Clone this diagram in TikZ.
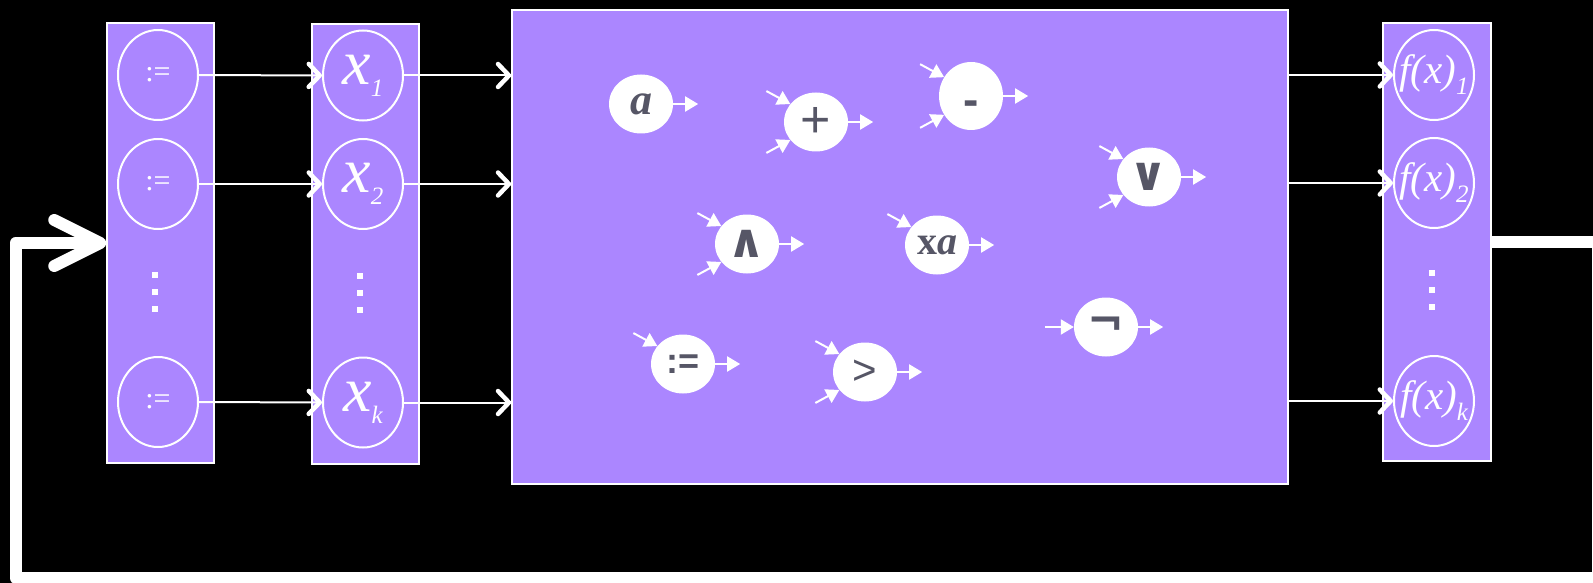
\documentclass[tikz,border=0pt]{standalone}
\usepackage{fontspec}
\setmainfont{Liberation Serif}
\setsansfont{Liberation Sans}
\newfontfamily\dejavu{DejaVu Sans}
\usepackage{tikz}
\usetikzlibrary{arrows.meta,positioning,shapes.geometric}
\definecolor{vio}{RGB}{171,134,255}
\definecolor{ink}{RGB}{86,86,102}
\newcommand{\xsub}[1]{\makebox[0pt]{\fontsize{64}{64}\selectfont\itshape x\raisebox{-12pt}{\fontsize{25}{25}\selectfont #1}}}
\newcommand{\fsub}[1]{\makebox[0pt]{\fontsize{41}{41}\selectfont\itshape f(x)\raisebox{-11pt}{\fontsize{25}{25}\selectfont #1}}}

\begin{document}
\begin{tikzpicture}[x=1pt, y=-1pt,
    col/.style={draw=white, line width=1.5pt, fill=vio, inner sep=0pt, minimum width=107pt, minimum height=440pt},
    slot/.style={ellipse, draw=white, line width=2pt, inner sep=0pt, minimum width=80pt, minimum height=90pt, text=white},
    op/.style={ellipse, fill=white, inner sep=0pt, minimum width=64pt, minimum height=59pt, text=ink},
    ar/.style={white, line width=2pt, -{Straight Barb[length=11pt, width=23pt, line width=4.5pt, round]}},
    tri/.style={white, line width=2pt, -{Triangle[length=13pt, width=15pt]}},
    loopback/.style={white, line width=12pt, line join=round, -{Straight Barb[length=46pt, width=46pt, round]}}]
  \fill[black] (0,0) rectangle (1593,583);
  \useasboundingbox (0,0) rectangle (1593,583);
  \clip (0,0) rectangle (1593,583);
  % columns
  \node[col] (asg) at (160.5,243) {};
  \node[col] (var) at (365.5,244) {};
  \node[col, minimum width=776pt, minimum height=474pt] (ops) at (900,247) {};
  \node[col, minimum width=108pt, minimum height=438pt] (out) at (1437,242) {};
  % assignments
  \node[slot, font=\fontsize{30}{30}\selectfont] (a1) at (158,75) {:=};
  \node[slot, font=\fontsize{30}{30}\selectfont] (a2) at (158,184) {:=};
  \node[slot, font=\fontsize{30}{30}\selectfont] (ak) at (158,402) {:=};
  % variables
  \node[slot] (x1) at (363,75.5) {\xsub{1}};
  \node[slot] (x2) at (363,184) {\xsub{2}};
  \node[slot] (xk) at (363,402.5) {\xsub{k}};
  % outputs
  \node[slot] (f1) at (1434,75) {\fsub{1}};
  \node[slot] (f2) at (1434,183) {\fsub{2}};
  \node[slot] (fk) at (1434,401) {\fsub{k}};
  % vertical dots
  \foreach \y in {275,292,309} \fill[white] (152,\y-3) rectangle ++(6,6);
  \foreach \y in {276,293,310} \fill[white] (357,\y-3) rectangle ++(6,6);
  \foreach \y in {273,290,307} \fill[white] (1429,\y-3) rectangle ++(6,6);
  % links between the columns
  \draw[ar] (a1.east) -- (x1.west); \draw[ar] (a2.east) -- (x2.west); \draw[ar] (ak.east) -- (xk.west);
  \draw[ar] (x1.east) -- (x1.east -| ops.west); \draw[ar] (x2.east) -- (x2.east -| ops.west);
  \draw[ar] (xk.east) -- (xk.east -| ops.west);
  \draw[ar] (ops.east |- f1.west) -- (f1.west); \draw[ar] (ops.east |- f2.west) -- (f2.west);
  \draw[ar] (ops.east |- fk.west) -- (fk.west);
  % feedback
  \coordinate (rgt) at (1598,0);
  \coordinate (btm) at (15.5,578);
  \draw[loopback] (out.east) -- (out.east -| rgt) |- (btm) |- (asg.west);
  % operators
  \node[op, font=\fontsize{44}{44}\selectfont\bfseries\itshape] (cst) at (641,104) {a};
  \node[op, font=\sffamily\fontsize{52}{52}\selectfont] (pl) at (816,122) {+};
  \node[op, minimum height=68pt, font=\sffamily\bfseries\fontsize{46}{46}\selectfont] (mi) at (971,96) {\raisebox{-20pt}[0pt][0pt]{-}};
  \node[op, font=\dejavu\bfseries\fontsize{47}{47}\selectfont] (lor) at (1149,177) {∨};
  \node[op, font=\dejavu\bfseries\fontsize{47}{47}\selectfont] (land) at (747,244) {∧};
  \node[op, font=\bfseries\fontsize{40}{40}\selectfont] (mul) at (937,245) {x\textit{a}};
  \node[op, font=\sffamily\bfseries\fontsize{36}{36}\selectfont] (set) at (683,364) {:=};
  \node[op, font=\sffamily\fontsize{42}{42}\selectfont] (gt) at (865,372) {>};
  \node[op, font=\dejavu\bfseries\fontsize{44}{44}\selectfont] (neg) at (1106,327) {¬};
  % operator inputs and outputs
  \draw[tri] (cst.east) -- ++(25,0);
  \draw[tri] ([shift={(-24,-13)}]pl.145) -- (pl.145); \draw[tri] ([shift={(-24,13)}]pl.215) -- (pl.215); \draw[tri] (pl.east) -- ++(25,0);
  \draw[tri] ([shift={(-24,-13)}]mi.145) -- (mi.145); \draw[tri] ([shift={(-24,13)}]mi.215) -- (mi.215); \draw[tri] (mi.east) -- ++(25,0);
  \draw[tri] ([shift={(-24,-13)}]lor.145) -- (lor.145); \draw[tri] ([shift={(-24,13)}]lor.215) -- (lor.215); \draw[tri] (lor.east) -- ++(25,0);
  \draw[tri] ([shift={(-24,-13)}]land.145) -- (land.145); \draw[tri] ([shift={(-24,13)}]land.215) -- (land.215); \draw[tri] (land.east) -- ++(25,0);
  \draw[tri] ([shift={(-24,-13)}]mul.145) -- (mul.145); \draw[tri] (mul.east) -- ++(25,0);
  \draw[tri] ([shift={(-24,-13)}]set.145) -- (set.145); \draw[tri] (set.east) -- ++(25,0);
  \draw[tri] ([shift={(-24,-13)}]gt.145) -- (gt.145); \draw[tri] ([shift={(-24,13)}]gt.215) -- (gt.215); \draw[tri] (gt.east) -- ++(25,0);
  \draw[tri] ([xshift=-29pt]neg.west) -- (neg.west); \draw[tri] (neg.east) -- ++(25,0);
\end{tikzpicture}
\end{document}
